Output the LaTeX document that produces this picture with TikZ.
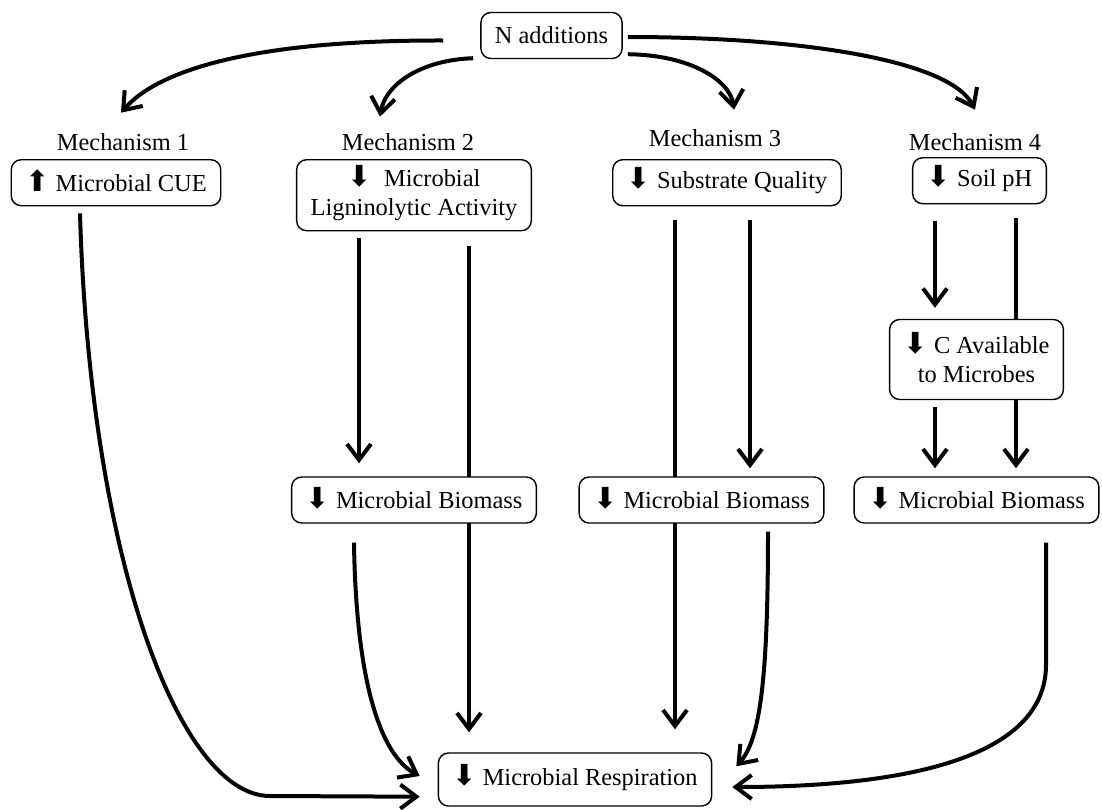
\documentclass[tikz,border=0pt]{standalone}
\usepackage{fontspec}
\setmainfont{Liberation Serif}
\newfontfamily\arrowfont{DejaVu Sans}
\usetikzlibrary{arrows.meta,calc}
\newcommand{\arrdown}{\smash{\arrowfont\fontsize{14.5}{14.5}\selectfont ⬇}}
\newcommand{\arrup}{\smash{\arrowfont\fontsize{14.5}{14.5}\selectfont ⬆}}
\pgfdeclarelayer{bg}
\pgfsetlayers{bg,main}
\tikzset{
  box/.style={draw,rounded corners=5pt,fill=white,line width=0.7pt,inner xsep=7pt,minimum height=23pt,align=center},
  flow/.style={line width=2pt,-{Straight Barb[length=8pt,width=12pt]}},
  link/.style={line width=2pt},
  mech/.style={inner sep=0pt,anchor=base}
}
\begin{document}
\begin{tikzpicture}[x=0.5pt,y=-0.5pt,font=\fontsize{12.2}{14.5}\selectfont]
    \useasboundingbox (0,0) rectangle (1102,809);
    % top
    \node[box] (nadd) at (551.5,35.5) {N additions};
    \node[mech] (m1) at (123,150) {Mechanism 1};
    \node[mech] (m2) at (408,150) {Mechanism 2};
    \node[mech] (m3) at (715,146) {Mechanism 3};
    \node[mech] (m4) at (975,150) {Mechanism 4};
    \node[box,anchor=north] (cue) at (116,159) {\arrup\ Microbial CUE};
    \node[box,anchor=north,minimum height=35.5pt] (lig) at (414,159) {\arrdown\ \ Microbial\\Ligninolytic Activity};
    \node[box,anchor=north] (sub) at (727,159) {\arrdown\ Substrate Quality};
    \node[box,anchor=north] (soil) at (979.5,157) {\arrdown\ Soil pH};
    \node[box,minimum height=40pt] (cav) at (976.5,359.5) {\arrdown\ C Available\\to Microbes};
    % biomass row
    \node[box] (bio2) at (414,500) {\arrdown\ Microbial Biomass};
    \node[box] (bio3) at (701.5,500) {\arrdown\ Microbial Biomass};
    \node[box] (bio4) at (976.5,500) {\arrdown\ Microbial Biomass};
    \node[box,minimum height=26.5pt] (resp) at (575,779.5) {\arrdown\ Microbial Respiration};
    \begin{pgfonlayer}{bg}
    \draw[flow] ($(nadd.west)+(-37,5)$) .. controls (260,40) and (160,68) .. ($(m1.north)+(-2,-20)$);
    \draw[flow] ($(nadd.south west)+(-7,-1)$) .. controls (420,60) and (385,85) .. ($(m2.north)+(-28,-16)$);
    \draw[flow] ($(nadd.south east)+(5,-5)$) .. controls (690,55) and (730,80) .. ($(m3.north)+(19,-19)$);
    \draw[flow] ($(nadd.east)+(5,1.5)$) .. controls (800,37) and (950,60) .. ($(m4.north)+(0,-23)$);
    % mechanism 1
    \draw[flow] ($(cue.south)+(-36,7)$) .. controls (90,560) and (180,796) .. (270,796) -- ($(resp.south west)+(-18,-10)$);
    % mechanism 2
    \draw[flow] ($(lig.south)+(-55,7)$) -- ($(bio2.north)+(-55,-13)$);
    \draw[flow] ($(lig.south)+(55,15)$) -- ($(resp.north)+(-106,-20)$);
    \draw[flow] ($(bio2.south)+(-60,19)$) .. controls (356,680) and (380,755) .. ($(resp.west)+(-18,-3.5)$);
    % mechanism 3
    \draw[flow] ($(sub.south)+(-52,14)$) -- ($(resp.north)+(100,-23)$);
    \draw[flow] ($(sub.south)+(23,14)$) -- ($(bio3.north)+(48.5,-8)$);
    \draw[flow] ($(bio3.south)+(66.5,8)$) .. controls (768,680) and (760,740) .. ($(resp.north east)+(24,14)$);
    % mechanism 4
    \draw[flow] ($(soil.south)+(-44.5,17)$) -- ($(cav.north)+(-41.5,-11)$);
    \draw[link] ($(soil.south)+(36.5,14)$) -- ($(cav.north)+(39.5,0)$);
    \draw[flow] ($(cav.south)+(-41.5,7)$) -- ($(bio4.north)+(-41.5,-8)$);
    \draw[flow] ($(cav.south)+(39.5,0)$) -- ($(bio4.north)+(39.5,-8)$);
    \draw[flow] ($(bio4.south)+(69.5,19)$) -- ++(0,122) .. controls +(0,95) and (900,787) .. ($(resp.east)+(20,7.5)$);
    \end{pgfonlayer}
\end{tikzpicture}
\end{document}
